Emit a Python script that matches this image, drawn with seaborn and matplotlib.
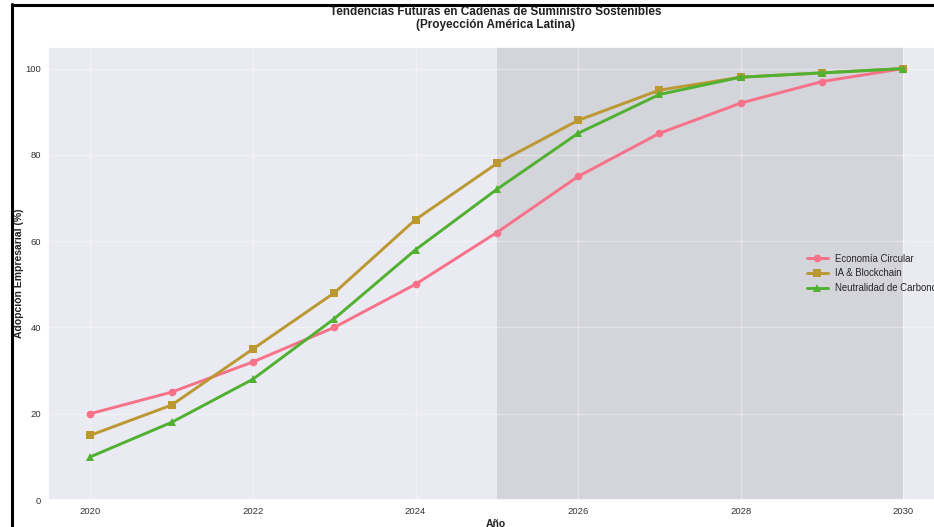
import matplotlib
matplotlib.use("Agg")
import matplotlib.pyplot as plt
from matplotlib.lines import Line2D
import seaborn as sns
import pandas as pd

years = [2020, 2021, 2022, 2023, 2024, 2025, 2026, 2027, 2028, 2029, 2030]
economia_circular = [20, 25, 32, 40, 50, 62, 75, 85, 92, 97, 100]
ia_blockchain = [15, 22, 35, 48, 65, 78, 88, 95, 98, 99, 100]
neutralidad_carbono = [10, 18, 28, 42, 58, 72, 85, 94, 98, 99, 100]
series_names = ["Economía Circular", "IA & Blockchain", "Neutralidad de Carbono"]
markers = ["o", "s", "^"]

sns.set_theme(style="darkgrid")
plt.rcParams["font.family"] = ["Liberation Sans", "DejaVu Sans"]
palette = sns.color_palette("husl", 6)

df = pd.DataFrame({
    "Año": years * 3,
    "valor": economia_circular + ia_blockchain + neutralidad_carbono,
    "serie": [series_names[0]] * len(years) + [series_names[1]] * len(years) + [series_names[2]] * len(years),
})

fig = plt.figure(figsize=(9.34, 5.27), dpi=100)
ax = fig.add_axes([48 / 934, 27 / 527, 896 / 934, 453 / 527])

ax.axvspan(2025, 2030, color="gray", alpha=0.2, lw=0, zorder=0.5)

for i, name in enumerate(series_names):
    sub = df[df["serie"] == name]
    sns.lineplot(data=sub, x="Año", y="valor", ax=ax, color=palette[i],
                 marker=markers[i], markersize=5.5, markeredgewidth=0,
                 linewidth=2.1, label=name)

ax.set_xlim(2019.48, 2030.5)
ax.set_ylim(0, 105)
ax.set_xticks([2020, 2022, 2024, 2026, 2028, 2030])
ax.set_yticks([0, 20, 40, 60, 80, 100])
ax.tick_params(axis="both", labelsize=6.8, colors="#333333", length=0, pad=5)
ax.grid(True, alpha=0.35)

ax.set_title("Tendencias Futuras en Cadenas de Suministro Sostenibles\n(Proyección América Latina)",
             fontsize=8.5, fontweight="bold", pad=14, color="#222222", linespacing=1.1)
ax.set_xlabel("Año", fontsize=7.5, fontweight="bold", labelpad=2, color="#222222")
ax.set_ylabel("Adopción Empresarial (%)", fontsize=7.5, fontweight="bold", labelpad=1, color="#222222")

leg = ax.legend(loc="center left", frameon=False, fontsize=6.9, handlelength=2.2,
                bbox_to_anchor=(0.837, 0.5))

# screenshot frame
fig.add_artist(Line2D([11.5 / 934, 11.5 / 934], [0, 1 - 4 / 527], transform=fig.transFigure,
                      color="black", lw=2.2))
fig.add_artist(Line2D([11.5 / 934, 1], [1 - 4.5 / 527, 1 - 4.5 / 527], transform=fig.transFigure,
                      color="black", lw=2.2))

fig.savefig("out.png", dpi=100)
